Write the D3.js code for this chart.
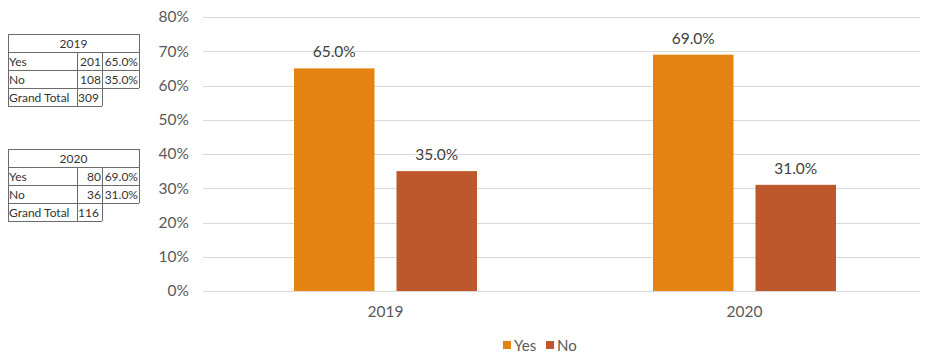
<!DOCTYPE html>
<html>
<head>
<meta charset="utf-8">
<script src="https://cdn.jsdelivr.net/npm/d3@7"></script>
<style>
  html, body { margin: 0; padding: 0; background: #fff; }
  svg { display: block; font-family: Lato, "Open Sans", sans-serif; }
</style>
</head>
<body>
<svg id="chart" width="925" height="354"></svg>
<script>
// Survey response share by year
const years = ["2019", "2020"];
const seriesNames = ["Yes", "No"];
const yesShare = [65.0, 69.0];
const noShare = [35.0, 31.0];
const yTicks = [0, 10, 20, 30, 40, 50, 60, 70, 80];
const colors = ["#E48312", "#BD582C"];

// Pivot summaries shown beside the chart
const yesCounts = [201, 80];
const noCounts = [108, 36];
const grandTotals = [309, 116];

const svg = d3.select("#chart");
const plot = { left: 206, right: 924, top: 17, bottom: 291 };

const y = d3.scaleLinear().domain([0, 80]).range([plot.bottom, plot.top]);
const x0 = d3.scaleBand().domain(years).range([plot.left, plot.right]);
const x1 = d3.scaleBand().domain(seriesNames).range([0, x0.bandwidth()])
  .paddingInner(0.2146).paddingOuter(0.8585);
const color = d3.scaleOrdinal().domain(seriesNames).range(colors);

const rows = years.map((yr, i) => ({ year: yr, values: [
  { key: "Yes", v: yesShare[i] }, { key: "No", v: noShare[i] }
]}));

// Gridlines
svg.append("g")
  .selectAll("line").data(yTicks).join("line")
  .attr("x1", 203).attr("x2", 920)
  .attr("y1", d => Math.round(y(d)) + 0.5).attr("y2", d => Math.round(y(d)) + 0.5)
  .attr("stroke", "#d9d9d9").attr("stroke-width", 1);

// Y axis labels
const yAxis = d3.axisLeft(y).tickValues(yTicks).tickFormat(d => d + "%").tickSize(0).tickPadding(0);
const yg = svg.append("g").attr("transform", "translate(189,0)").call(yAxis);
yg.select(".domain").remove();
yg.selectAll("text").attr("fill", "#595959").style("font-size", "15.5px")
  .style("font-family", "Lato, sans-serif");

// X axis labels
const xAxis = d3.axisBottom(x0).tickSize(0).tickPadding(0);
const xg = svg.append("g").attr("transform", "translate(0,306)").call(xAxis);
xg.select(".domain").remove();
xg.selectAll("text").attr("fill", "#595959").style("font-size", "15.5px")
  .style("font-family", "Lato, sans-serif");

// Bars
const groups = svg.append("g").selectAll("g").data(rows).join("g")
  .attr("transform", d => `translate(${x0(d.year)},0)`);
groups.selectAll("rect").data(d => d.values).join("rect")
  .attr("x", d => x1(d.key)).attr("width", x1.bandwidth())
  .attr("y", d => y(d.v)).attr("height", d => y(0) - y(d.v))
  .attr("fill", d => color(d.key));
groups.selectAll("text").data(d => d.values).join("text")
  .attr("x", d => x1(d.key) + x1.bandwidth() / 2)
  .attr("y", d => y(d.v) - 11)
  .attr("text-anchor", "middle").attr("fill", "#404040")
  .style("font-size", "15.5px")
  .text(d => d.v.toFixed(1) + "%");

// Legend
const legend = svg.append("g").attr("transform", "translate(503,341)");
const li = legend.selectAll("g").data(seriesNames).join("g")
  .attr("transform", (d, i) => `translate(${i * 43},0)`);
li.append("rect").attr("width", 8).attr("height", 8).attr("fill", d => color(d));
li.append("text").attr("x", 11).attr("y", 10).attr("fill", "#595959")
  .style("font-size", "15px").text(d => d);

// Pivot tables
const colX = [8, 77, 102, 139];
const rowH = 18;
function drawTable(top, i) {
  const g = svg.append("g").attr("transform", `translate(0,${top})`);
  const line = (xa, ya, xb, yb) => g.append("line")
    .attr("x1", xa).attr("y1", ya).attr("x2", xb).attr("y2", yb)
    .attr("stroke", "#6b6b6b").attr("stroke-width", 1).attr("shape-rendering", "crispEdges");
  line(colX[0], 0, colX[3], 0);
  line(colX[0], rowH, colX[3], rowH);
  line(colX[0], rowH * 2, colX[3], rowH * 2);
  line(colX[0], rowH * 3, colX[3], rowH * 3);
  line(colX[0], rowH * 4, colX[2], rowH * 4);
  line(colX[0], 0, colX[0], rowH * 4);
  line(colX[3], 0, colX[3], rowH * 3);
  line(colX[1], rowH, colX[1], rowH * 4);
  line(colX[2], rowH, colX[2], rowH * 4);
  const t = (x, yy, s, anchor) => g.append("text").attr("x", x).attr("y", yy)
    .attr("text-anchor", anchor).attr("fill", "#333").style("font-size", "12px").text(s);
  t((colX[0] + colX[3]) / 2, 14, years[i], "middle");
  const data = [
    ["Yes", yesCounts[i], yesShare[i].toFixed(1) + "%"],
    ["No", noCounts[i], noShare[i].toFixed(1) + "%"],
    ["Grand Total", grandTotals[i], null]
  ];
  data.forEach((r, k) => {
    const yy = rowH * (k + 1) + 14;
    t(colX[0] + 1, yy, r[0], "start");
    if (k < 2) t(colX[2] - 1, yy, r[1], "end");
    else t(colX[1] + 1, yy, r[1], "start");
    if (r[2]) t(colX[3] - 1, yy, r[2], "end");
  });
}
drawTable(34, 0);
drawTable(149, 1);
</script>
</body>
</html>
